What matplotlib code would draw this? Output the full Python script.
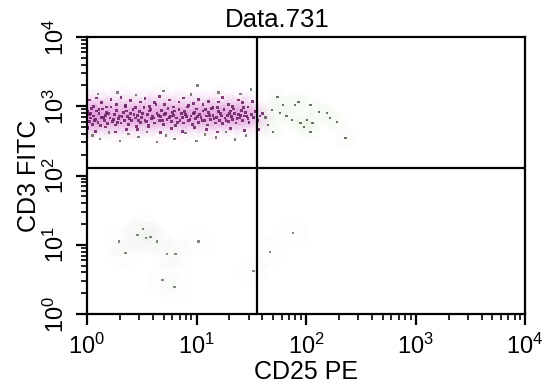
import numpy as np
import matplotlib
matplotlib.use("Agg")
import matplotlib.pyplot as plt
from matplotlib.ticker import FixedLocator, LogLocator, NullFormatter

plt.rcParams['font.family'] = 'Liberation Sans'
plt.rcParams['mathtext.fontset'] = 'custom'
plt.rcParams['mathtext.rm'] = 'Liberation Sans'

title = "Data.731"
x_label = "CD25 PE"
y_label = "CD3 FITC"
decades = [0, 1, 2, 3, 4]
tick_labels = ["$\\mathregular{10^{%d}}$" % d for d in decades]

# quadrant gates (data units)
gate_x = 36
gate_y = 128

# main CD3+ population, log10 values
band_lx = [0.00, 0.00, 0.01, 0.00, 0.02, 0.01, 0.00, 0.03, 0.02, 0.00, 0.04, 0.05,
           0.06, 0.08, 0.09, 0.10, 0.11, 0.12, 0.13, 0.14, 0.16, 0.17, 0.18, 0.19,
           0.21, 0.22, 0.23, 0.25, 0.26, 0.27, 0.29, 0.30, 0.31, 0.33, 0.34, 0.35,
           0.37, 0.38, 0.40, 0.41, 0.42, 0.44, 0.45, 0.46, 0.48, 0.49, 0.50, 0.52,
           0.53, 0.55, 0.56, 0.57, 0.59, 0.60, 0.62, 0.63, 0.64, 0.66, 0.67, 0.68,
           0.70, 0.71, 0.73, 0.74, 0.75, 0.77, 0.78, 0.79, 0.81, 0.82, 0.84, 0.85,
           0.86, 0.88, 0.89, 0.91, 0.92, 0.93, 0.95, 0.96, 0.97, 0.99, 1.00, 1.02,
           1.03, 1.04, 1.06, 1.07, 1.09, 1.10, 1.11, 1.13, 1.14, 1.15, 1.17, 1.18,
           1.20, 1.21, 1.22, 1.24, 1.25, 1.26, 1.28, 1.29, 1.31, 1.32, 1.33, 1.35,
           1.36, 1.38, 1.39, 1.41, 1.42, 1.44, 1.45, 1.47, 1.48, 1.50, 1.52, 1.54,
           1.56, 1.58, 1.60,
           0.03, 0.07, 0.11, 0.15, 0.20, 0.24, 0.28, 0.32, 0.36, 0.39, 0.43, 0.47,
           0.51, 0.54, 0.58, 0.61, 0.65, 0.69, 0.72, 0.76, 0.80, 0.83, 0.87, 0.90,
           0.94, 0.98, 1.01, 1.05, 1.08, 1.12, 1.16, 1.19, 1.23, 1.27, 1.30, 1.34,
           1.37, 1.40, 1.43, 1.46,
           0.00, 0.02, 0.06, 0.09, 0.13, 0.18, 0.22, 0.27, 0.31, 0.35, 0.40, 0.44,
           0.49, 0.53, 0.57, 0.62, 0.66, 0.71, 0.75, 0.79, 0.84, 0.88, 0.93, 0.97,
           1.02, 1.06, 1.11, 1.15, 1.20, 1.24, 1.29, 1.33, 1.38, 1.42, 1.47, 1.51,
           0.01, 0.08, 0.17, 0.26, 0.36, 0.46, 0.56, 0.67, 0.77, 0.87, 0.98, 1.09,
           1.19, 1.31, 1.44, 1.57]
band_ly = [2.85, 2.80, 2.92, 2.76, 2.88, 2.70, 2.95, 2.83, 2.78, 2.90, 2.97, 2.74,
           2.86, 2.81, 2.93, 2.77, 2.89, 2.72, 2.84, 2.96, 2.79, 2.87, 2.91, 2.75,
           2.83, 2.99, 2.78, 2.88, 2.73, 2.94, 2.82, 2.86, 2.76, 2.91, 2.80, 3.00,
           2.85, 2.74, 2.89, 2.79, 2.95, 2.83, 2.71, 2.87, 2.92, 2.77, 2.84, 2.98,
           2.80, 2.88, 2.73, 2.93, 2.82, 2.86, 2.76, 3.02, 2.90, 2.79, 2.85, 2.94,
           2.74, 2.88, 2.81, 2.97, 2.84, 2.78, 2.91, 2.87, 2.72, 2.83, 2.95, 2.80,
           2.89, 2.76, 2.92, 2.85, 2.99, 2.79, 2.86, 2.74, 2.90, 2.82, 2.96, 2.77,
           2.88, 2.84, 2.93, 2.79, 2.86, 2.73, 2.91, 2.81, 2.97, 2.87, 2.76, 2.84,
           2.92, 2.80, 2.89, 2.75, 2.95, 2.83, 2.87, 2.78, 2.93, 2.85, 2.81, 2.90,
           2.76, 2.88, 2.83, 2.94, 2.79, 2.86, 2.91, 2.82, 2.77, 2.88, 2.84, 2.92,
           2.80, 2.86, 2.89,
           2.90, 2.79, 2.95, 2.84, 2.89, 2.81, 2.77, 2.85, 2.93, 2.82, 2.88, 2.80,
           2.90, 2.78, 2.95, 2.83, 2.87, 2.80, 2.90, 2.86, 2.93, 2.77, 2.84, 2.88,
           2.81, 2.91, 2.85, 2.80, 2.95, 2.87, 2.82, 2.98, 2.86, 2.80, 2.89, 2.96,
           2.82, 2.87, 2.98, 2.85,
           3.04, 3.09, 3.00, 3.12, 3.05, 2.99, 3.10, 3.03, 3.13, 3.01, 3.08, 2.98,
           3.06, 3.11, 3.00, 3.05, 3.14, 3.02, 3.09, 2.99, 3.06, 3.12, 3.01, 3.04,
           3.10, 3.02, 3.07, 2.98, 3.06, 3.13, 3.03, 3.00, 3.09, 3.05, 2.99, 3.07,
           2.68, 2.64, 2.70, 2.63, 2.67, 2.66, 2.70, 2.62, 2.68, 2.64, 2.69, 2.66,
           2.63, 2.68, 2.65, 2.67]

# scattered events just above / below the band
stray_lx = [0.05, 0.12, 0.20, 0.30, 0.38, 0.47, 0.55, 0.64, 0.72, 0.80, 0.90, 1.00,
            1.08, 1.18, 1.27, 1.35, 1.45, 1.55,
            0.10, 0.28, 0.45, 0.70, 0.95, 1.01, 1.20, 1.40, 1.50]
stray_ly = [2.58, 2.53, 2.62, 2.50, 2.60, 2.56, 2.63, 2.48, 2.58, 2.53, 2.61, 2.50,
            2.59, 2.55, 2.63, 2.52, 2.58, 2.48,
            3.18, 3.20, 3.16, 3.22, 3.17, 3.30, 3.20, 3.18, 3.24]

# CD25+ tail of the CD3+ population
tail_lx = [1.74, 1.79, 1.76, 1.90, 1.93, 2.04, 1.87, 1.95, 2.01, 2.06, 2.19, 2.22,
           2.28, 2.36, 1.70, 1.65, 1.63, 1.69, 2.04, 1.82, 2.12, 1.98]
tail_ly = [3.13, 3.02, 2.90, 3.02, 3.06, 3.02, 2.80, 2.76, 2.80, 2.76, 2.90, 2.83,
           2.77, 2.54, 2.63, 2.73, 2.84, 2.95, 2.63, 2.86, 2.92, 2.70]

# CD3- events
low_lx = [0.29, 0.35, 0.46, 0.51, 0.54, 0.58, 0.64, 0.73, 0.81, 0.69, 0.80, 1.02,
          1.52, 1.67, 1.88]
low_ly = [1.05, 0.88, 1.14, 1.23, 1.10, 1.11, 1.05, 0.87, 0.87, 0.49, 0.39, 1.05,
          0.62, 0.90, 1.17]

bx, by = 10 ** np.array(band_lx), 10 ** np.array(band_ly)
sx, sy = 10 ** np.array(stray_lx), 10 ** np.array(stray_ly)
tx, ty = 10 ** np.array(tail_lx), 10 ** np.array(tail_ly)
lx, ly = 10 ** np.array(low_lx), 10 ** np.array(low_ly)

fig = plt.figure(figsize=(5.47, 3.85), dpi=100)
ax = fig.add_axes([0.159, 0.184, 0.801, 0.720])

# faint haze behind the populations
ax.scatter(bx, by, s=260, color='#d860cc', alpha=0.035, edgecolors='none')
ax.scatter(lx, ly, s=500, color='#b8ccb8', alpha=0.03, edgecolors='none')
ax.scatter(tx, ty, s=200, color='#c0d8a8', alpha=0.05, edgecolors='none')

ax.scatter(bx, by, s=4, marker='s', color='#6a1f62', alpha=0.85, edgecolors='none')
ax.scatter(sx, sy, s=3, marker='s', color='#58654f', alpha=0.8, edgecolors='none')
ax.scatter(tx, ty, s=3, marker='s', color='#4f5a45', alpha=0.85, edgecolors='none')
ax.scatter(lx, ly, s=3, marker='s', color='#5f6b5c', alpha=0.8, edgecolors='none')

ax.axvline(gate_x, color='black', lw=1.6)
ax.axhline(gate_y, color='black', lw=1.6)

ax.set_xscale('log')
ax.set_yscale('log')
ax.set_xlim(1, 1e4)
ax.set_ylim(1, 1e4)

for axis in (ax.xaxis, ax.yaxis):
    axis.set_major_locator(FixedLocator([10 ** d for d in decades]))
    axis.set_minor_locator(LogLocator(base=10, subs=np.arange(2, 10)))
    axis.set_minor_formatter(NullFormatter())
ax.set_xticklabels(tick_labels)
ax.set_yticklabels(tick_labels, rotation=90, va='center')

ax.tick_params(which='major', direction='out', length=8, width=1.6, labelsize=17, pad=5)
ax.tick_params(which='minor', direction='out', length=4, width=1.2)
ax.tick_params(axis='x', which='major', pad=6)
for sp in ax.spines.values():
    sp.set_linewidth(1.6)

ax.set_xlabel(x_label, fontsize=18, labelpad=1)
ax.set_ylabel(y_label, fontsize=18, labelpad=2)
fig.text(277 / 547, 1 - 20 / 385, title, fontsize=18.5, ha='center', va='center')

fig.savefig("out.png", dpi=100)
